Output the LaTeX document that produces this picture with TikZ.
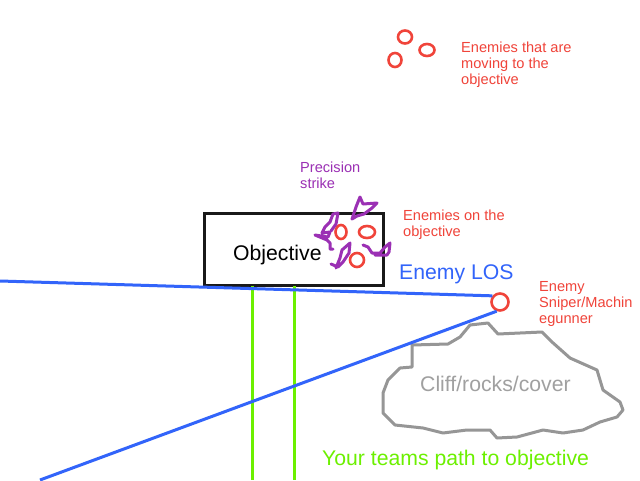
\documentclass[tikz,border=0pt]{standalone}
\usepackage{fontspec}
\setmainfont{Liberation Sans}
\definecolor{enred}{RGB}{240,68,58}
\definecolor{losblue}{RGB}{50,100,250}
\definecolor{pathgreen}{RGB}{108,240,0}
\definecolor{strikepurple}{RGB}{155,48,180}
\definecolor{cloudgray}{RGB}{150,150,150}
\definecolor{cloudtext}{RGB}{160,160,160}
\tikzset{
  enemy/.style={draw=enred, line width=2.6pt, ellipse, inner sep=0pt},
  smalltxt/.style={font=\fontsize{14.6}{15.8}\selectfont, align=left, inner sep=0pt, anchor=base west},
  bigtxt/.style={font=\fontsize{21.2}{24}\selectfont, inner sep=0pt, anchor=base west},
  losline/.style={draw=losblue, line width=3pt},
  greenline/.style={draw=pathgreen, line width=3pt},
  scribble/.style={draw=strikepurple, line width=3pt, line join=round, line cap=round},
  objbox/.style={draw=black!90, line width=3pt, minimum width=179pt, minimum height=72pt, inner sep=0pt},
}
\usetikzlibrary{shapes.geometric}
\begin{document}
\begin{tikzpicture}[x=1pt, y=-1pt]
\useasboundingbox (0,0) rectangle (640,480);
\fill[white] (0,0) rectangle (640,480);

% Objective box
\node[objbox] (obj) at (293.5,249) {};
\node[bigtxt] (objlbl) at (233,260) {Objective};

% green path lines
\coordinate (g1a) at (252,286);
\coordinate (g1b) at (252,480);
\coordinate (g2a) at (294,286);
\coordinate (g2b) at (294,480);
\draw[greenline] (g1a) -- (g1b);
\draw[greenline] (g2a) -- (g2b);

% cloud
\draw[draw=cloudgray, line width=3pt, line join=round]
  (412,345) -- (448,344) -- (460,337) -- (470,325) -- (488,323) -- (498,334)
  -- (542,332) -- (552,342) -- (570,358) -- (597,370) -- (603,390) -- (620,402)
  -- (623,410) -- (617,417) -- (600,422) -- (583,430) -- (563,433) -- (543,430)
  -- (517,437) -- (497,438) -- (490,430) -- (467,430) -- (443,433) -- (423,428)
  -- (395,425) -- (383,413) -- (383,393) -- (388,380) -- (400,368) -- (412,367) -- cycle;
\node[bigtxt, text=cloudtext] (cliff) at (420,391) {Cliff/rocks/cover};

% sniper and LOS
\node[enemy, minimum width=17pt, minimum height=17pt, circle] (sniper) at (500,302) {};
\coordinate (losL) at (0,281);
\coordinate (losB) at (40,480);
\draw[losline] (losL) -- (sniper.141);
\draw[losline] (sniper.250) -- (losB);
\node[bigtxt, text=losblue] (loslbl) at (399,279) {Enemy LOS};
\node[smalltxt, text=enred] (sniperlbl) at (539,323) {Enemy\\Sniper/Machin\\egunner};

% moving enemies
\node[enemy, minimum width=14pt, minimum height=13pt] (m1) at (405,37) {};
\node[enemy, minimum width=15pt, minimum height=12pt] (m2) at (427,50) {};
\node[enemy, minimum width=13pt, minimum height=14pt] (m3) at (395,60) {};
\node[smalltxt, text=enred] (movelbl) at (461,84) {Enemies that are\\moving to the\\objective};

% enemies on objective
\node[enemy, minimum width=11pt, minimum height=14pt] (o1) at (341,232) {};
\node[enemy, minimum width=16pt, minimum height=12pt] (o2) at (367,232) {};
\node[enemy, minimum width=14pt, minimum height=14pt] (o3) at (357,260) {};
\node[smalltxt, text=enred] (onlbl) at (403,236) {Enemies on the\\objective};

% precision strike scribbles
\draw[scribble] (352,219) -- (356,207) -- (360,197) -- (363,204) -- (377,203)
  -- (372,208) -- (364,214) -- (357,216) -- (352,219);
\draw[scribble] (338,213) -- (333,214) -- (330,222) -- (325,227) -- (322,233)
  -- (330,232) -- (328,237) -- (315,235) -- (327,240) -- (330,243) -- (330,249) -- (333,249);
\draw[scribble] (338,213) -- (336,224) -- (331,231);
\draw[scribble] (336,268) -- (340,258) -- (342,250) -- (350,243) -- (349,253)
  -- (343,262) -- (338,267) -- (331,264);
\draw[scribble] (363,245) -- (368,247) -- (372,253) -- (380,253) -- (385,247)
  -- (390,243) -- (389,252) -- (387,255) -- (375,255);
\node[smalltxt, text=strikepurple] (strikelbl) at (300,188) {Precision\\strike};

% path label
\node[bigtxt, text=pathgreen] (pathlbl) at (322,465) {Your teams path to objective};
\end{tikzpicture}
\end{document}
